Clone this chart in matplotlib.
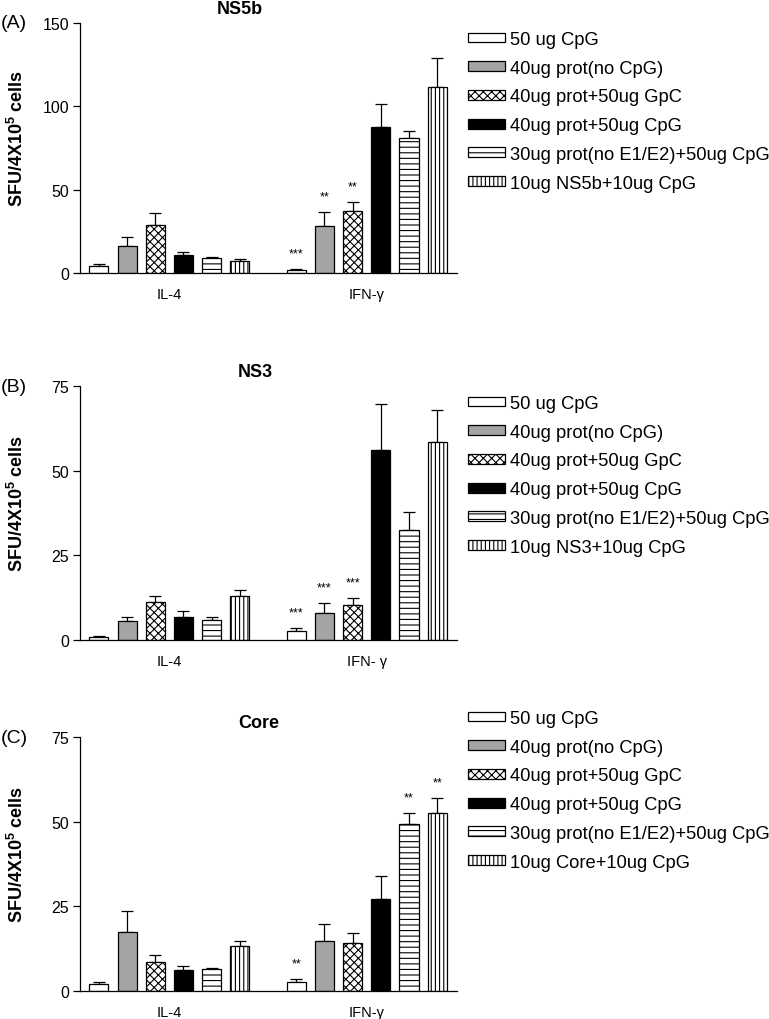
import numpy as np
import matplotlib
matplotlib.use('Agg')
import matplotlib.pyplot as plt
from matplotlib.patches import Patch

plt.rcParams['font.family'] = ['Liberation Sans', 'DejaVu Sans']
plt.rcParams['mathtext.fontset'] = 'custom'
plt.rcParams['mathtext.rm'] = 'Liberation Sans'
plt.rcParams['mathtext.bf'] = 'Liberation Sans:bold'
plt.rcParams['hatch.linewidth'] = 0.8

# group labels and treatments
groups_a = ['IL-4', 'IFN-\u03b3']
groups_b = ['IL-4', 'IFN- \u03b3']
groups_c = ['IL-4', 'IFN-\u03b3']
common_labels = ['50 ug CpG', '40ug prot(no CpG)', '40ug prot+50ug GpC',
                 '40ug prot+50ug CpG', '30ug prot(no E1/E2)+50ug CpG']
last_label_a = '10ug NS5b+10ug CpG'
last_label_b = '10ug NS3+10ug CpG'
last_label_c = '10ug Core+10ug CpG'

# panel A: NS5b
il4_a = [4.0, 16.4, 28.8, 11.0, 9.0, 7.0]
il4_a_err = [1.2, 5.2, 7.0, 1.4, 0.6, 1.4]
ifn_a = [1.8, 28.4, 37.2, 87.8, 81.2, 111.4]
ifn_a_err = [0.6, 8.0, 5.6, 13.8, 4.0, 17.8]
stars_a = ['***', '**', '**', '', '', '']

# panel B: NS3
il4_b = [0.7, 5.4, 11.1, 6.8, 5.8, 13.0]
il4_b_err = [0.3, 1.4, 1.9, 1.7, 1.0, 1.6]
ifn_b = [2.5, 7.8, 10.3, 56.0, 32.6, 58.6]
ifn_b_err = [1.0, 3.1, 2.1, 13.8, 5.3, 9.3]
stars_b = ['***', '***', '***', '', '', '']

# panel C: Core
il4_c = [1.9, 17.5, 8.4, 6.2, 6.3, 13.1]
il4_c_err = [0.6, 6.0, 2.1, 1.1, 0.5, 1.6]
ifn_c = [2.7, 14.6, 14.1, 27.2, 49.3, 52.5]
ifn_c_err = [0.7, 5.1, 3.0, 6.7, 3.3, 4.5]
stars_c = ['**', '', '', '', '**', '**']

# bar styles
face_colors = ['white', '#a4a4a4', 'white', 'black', 'white', 'white']
hatches = ['', '', 'xxxx', '', '---', '||||']

W, H = 769, 1020
fig = plt.figure(figsize=(W / 100, H / 100), dpi=100)


def draw_panel(top_px, bottom_px, title, title_x, letter, ymax, yticks, groups,
               il4, il4_err, ifn, ifn_err, stars, last_label, legend_y_px):
    left_px, right_px = 80, 457
    ax = fig.add_axes([left_px / W, 1 - bottom_px / H,
                       (right_px - left_px) / W, (bottom_px - top_px) / H])
    offsets = np.arange(6) - 2.5
    for g, (vals, errs) in enumerate([(il4, il4_err), (ifn, ifn_err)]):
        x = g * 7 + offsets
        for i in range(6):
            ax.bar(x[i], vals[i], width=0.68, color=face_colors[i],
                   edgecolor='black', linewidth=0.9, hatch=hatches[i], zorder=2)
            ax.errorbar(x[i], vals[i], yerr=[[0], [errs[i]]], fmt='none',
                        ecolor='black', elinewidth=0.9, capsize=4.5,
                        capthick=0.9, zorder=1)
        if g == 1:
            for i in range(6):
                if stars[i]:
                    ax.annotate(stars[i], (x[i], vals[i] + errs[i]),
                                xytext=(0, 7), textcoords='offset points',
                                ha='center', va='bottom', fontsize=9)
    ax.set_xlim(-3.17, 10.2)
    ax.set_ylim(0, ymax)
    ax.set_yticks(yticks)
    ax.set_xticks([0, 7])
    ax.set_xticklabels(groups, fontsize=10.5)
    ax.tick_params(axis='x', length=0, pad=10)
    ax.tick_params(axis='y', length=5, width=0.9, labelsize=11.5, pad=3)
    for s in ['top', 'right']:
        ax.spines[s].set_visible(False)
    for s in ['left', 'bottom']:
        ax.spines[s].set_linewidth(0.9)
    ax.set_ylabel('SFU/4X10$^{\\mathbf{5}}$ cells', fontsize=13, fontweight='bold')
    ax.yaxis.set_label_coords(-0.14, 0.54)
    fig.text(title_x / W, 1 - (top_px - 15) / H, title, fontsize=13,
             fontweight='bold', ha='center', va='center')
    fig.text(1 / W, 1 - top_px / H, letter, fontsize=14, ha='left', va='center')

    labels = common_labels + [last_label]
    handles = [Patch(facecolor=face_colors[i], edgecolor='black', linewidth=0.9,
                     hatch=hatches[i]) for i in range(6)]
    ax.legend(handles, labels, loc='upper left', frameon=False,
              bbox_to_anchor=(468 / W, 1 - legend_y_px / H),
              bbox_transform=fig.transFigure, borderaxespad=0, borderpad=0,
              fontsize=13.2, handlelength=2.0, handleheight=0.45,
              handletextpad=0.31, labelspacing=0.64)
    return ax


draw_panel(24, 274, 'NS5b', 240, '(A)', 150, [0, 50, 100, 150], groups_a,
           il4_a, il4_a_err, ifn_a, ifn_a_err, stars_a, last_label_a, 32)
draw_panel(387.3, 640.7, 'NS3', 255, '(B)', 75, [0, 25, 50, 75], groups_b,
           il4_b, il4_b_err, ifn_b, ifn_b_err, stars_b, last_label_b, 396)
draw_panel(738.3, 991.7, 'Core', 259, '(C)', 75, [0, 25, 50, 75], groups_c,
           il4_c, il4_c_err, ifn_c, ifn_c_err, stars_c, last_label_c, 711)

fig.savefig('out.png', dpi=100)
